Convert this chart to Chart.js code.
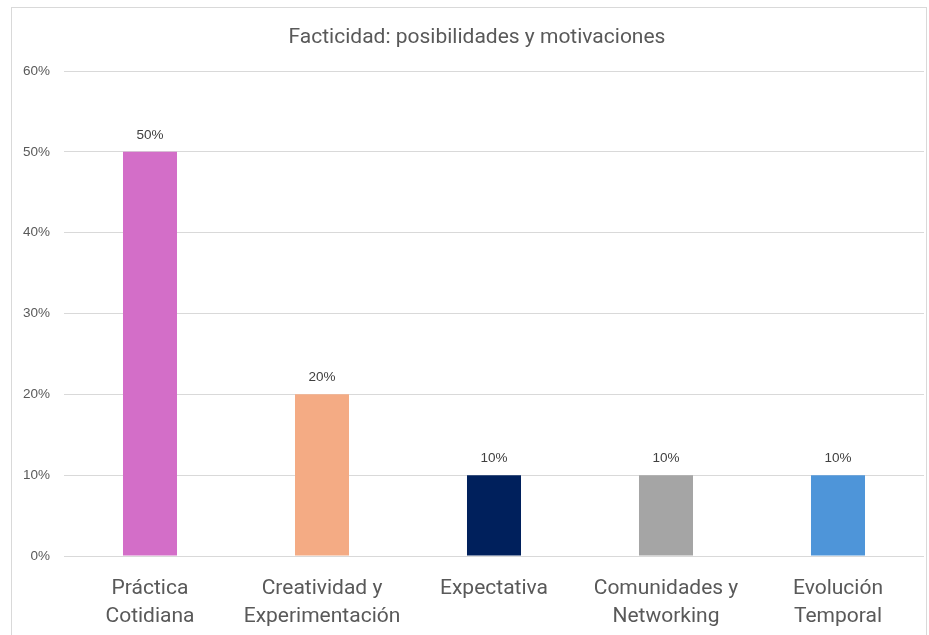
<!DOCTYPE html>
<html>
<head>
<meta charset="utf-8">
<script src="https://cdn.jsdelivr.net/npm/chart.js@4/dist/chart.umd.min.js"></script>
<style>
  html, body { margin: 0; padding: 0; background: #fff; }
  #wrap { position: relative; width: 929px; height: 635px; }
  #frame { position: absolute; left: 11px; top: 7px; width: 916px; height: 640px; border: 1.5px solid #d9d9d9; box-sizing: border-box; }
  canvas { position: absolute; left: 0; top: 0; }
</style>
</head>
<body>
<div id="wrap">
  <div id="frame"></div>
  <canvas id="chart" width="929" height="635"></canvas>
</div>
<script>
// Chart data
const chartTitle = 'Facticidad: posibilidades y motivaciones';
const categories = [
  ['Práctica', 'Cotidiana'],
  ['Creatividad y', 'Experimentación'],
  'Expectativa',
  ['Comunidades y', 'Networking'],
  ['Evolución', 'Temporal']
];
const values = [50, 20, 10, 10, 10];
const barColors = ['#D36EC8', '#F4AB84', '#00205C', '#A5A5A5', '#4E95D9'];
const yTicks = [0, 10, 20, 30, 40, 50, 60];

// value labels above bars + title centred on the frame (not the canvas)
const extras = {
  id: 'extras',
  afterDatasetsDraw(chart) {
    const ctx = chart.ctx;
    const meta = chart.getDatasetMeta(0);
    ctx.save();
    ctx.font = '13.5px "Liberation Sans", Arial, sans-serif';
    ctx.fillStyle = '#404040';
    ctx.textAlign = 'center';
    ctx.textBaseline = 'bottom';
    meta.data.forEach((bar, i) => {
      ctx.fillText(values[i] + '%', bar.x, bar.y - 10);
    });
    ctx.font = '21px Roboto, sans-serif';
    ctx.fillStyle = '#595959';
    ctx.textBaseline = 'middle';
    ctx.fillText(chartTitle, 477, 38);
    ctx.restore();
  }
};

const ctx = document.getElementById('chart').getContext('2d');
new Chart(ctx, {
  type: 'bar',
  data: {
    labels: categories,
    datasets: [{
      data: values,
      backgroundColor: barColors,
      categoryPercentage: 1,
      barPercentage: 0.314
    }]
  },
  plugins: [extras],
  options: {
    responsive: false,
    animation: false,
    layout: { padding: { left: 0, right: 5, top: 71, bottom: 0 } },
    plugins: {
      legend: { display: false },
      tooltip: { enabled: false },
      title: { display: false }
    },
    scales: {
      x: {
        grid: { display: false },
        border: { display: false },
        ticks: {
          color: '#595959',
          font: { family: 'Roboto, sans-serif', size: 21, lineHeight: 1.32 },
          padding: 11,
          maxRotation: 0,
          autoSkip: false
        },
        afterFit(scale) { scale.height = 79; }
      },
      y: {
        min: 0,
        max: 60,
        afterBuildTicks(scale) { scale.ticks = yTicks.map(v => ({ value: v })); },
        grid: { color: '#d9d9d9', lineWidth: 1, drawTicks: false },
        border: { display: false },
        ticks: {
          color: '#595959',
          font: { family: '"Liberation Sans", Arial, sans-serif', size: 13.5 },
          padding: 14,
          callback: v => v + '%'
        },
        afterFit(scale) { scale.width = 64; }
      }
    }
  }
});
</script>
</body>
</html>
